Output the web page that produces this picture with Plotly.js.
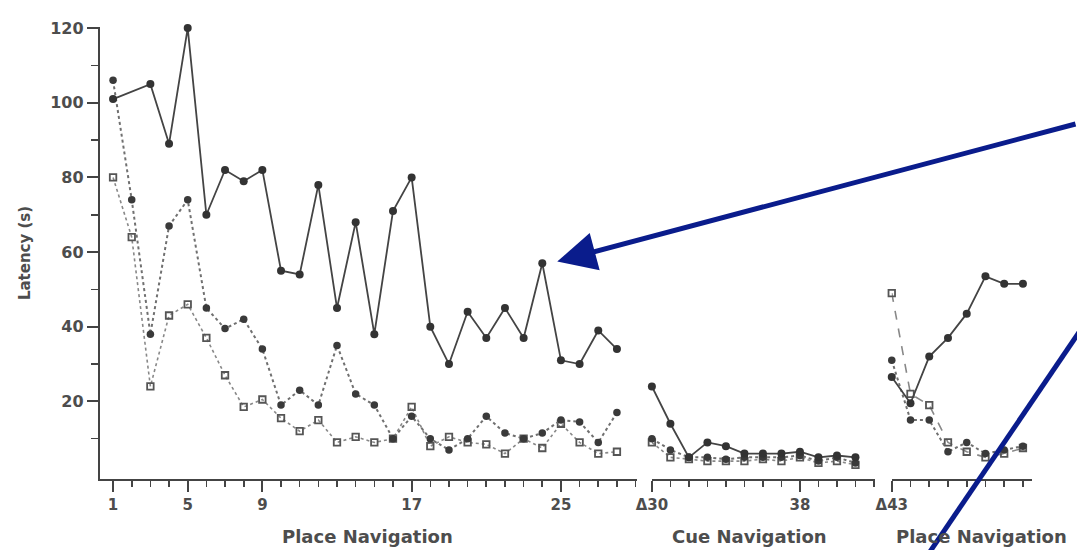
<!DOCTYPE html>
<html>
<head>
<meta charset="utf-8">
<script src="https://cdn.plot.ly/plotly-3.0.1.min.js"></script>
<style>
  html, body { margin: 0; padding: 0; background: #ffffff; }
  #chart { width: 1077px; height: 550px; }
</style>
</head>
<body>
<div id="chart"></div>
<script>
// ---- Data (latency in seconds) ----
// Place navigation, trials 1-28
const placeTrials1 = [1,2,3,4,5,6,7,8,9,10,11,12,13,14,15,16,17,18,19,20,21,22,23,24,25,26,27,28];
const solidPlace1  = [101,null,105,89,120,70,82,79,82,55,54,78,45,68,38,71,80,40,30,44,37,45,37,57,31,30,39,34];
const dottedPlace1 = [106,74,38,67,74,45,39.5,42,34,19,23,19,35,22,19,10,16,10,7,10,16,11.5,10,11.5,15,14.5,9,17];
const openPlace1   = [80,64,24,43,46,37,27,18.5,20.5,15.5,12,15,9,10.5,9,10,18.5,8,10.5,9,8.5,6,10,7.5,14,9,6,6.5];

// Cue navigation, trials 30-41
const cueTrials   = [30,31,32,33,34,35,36,37,38,39,40,41];
const solidCue    = [24,14,5,9,8,6,6,6,6.5,5,5.5,5];
const dottedCue   = [10,7,5,5,4.5,5,5,5,5.5,4,5,3.5];
const openCue     = [9,5,4.5,4,4,4,4.5,4,5,3.5,4,3];

// Place navigation (second), trials 43-50
const placeTrials2 = [43,44,45,46,47,48,49,50];
const solidPlace2  = [26.5,19.5,32,37,43.5,53.5,51.5,51.5];
const dottedPlace2 = [31,15,15,6.5,9,6,7,8];
const openPlace2   = [49,22,19,9,6.5,5,6,7.5];

// Tick labels
const place1TickVals = [1,5,9,17,25];
const place1TickText = ['1','5','9','17','25'];
const cueTickVals = [30,38];
const cueTickText = ['\u039430','38'];
const place2TickVals = [43];
const place2TickText = ['\u039443'];
const yTickVals = [20,40,60,80,100,120];
const yTickText = ['20','40','60','80','100','120'];
const yMinorVals = [10,30,50,70,90,110];

// ---- Styles ----
const FONT = 'DejaVu Sans, Liberation Sans, Arial, sans-serif';
const INK = '#444';
const TXT = '#4d4d4d';

function solid(x, y, xa) {
  return {x, y, xaxis: xa, yaxis: 'y', type: 'scatter', mode: 'lines+markers',
    connectgaps: true, cliponaxis: false, showlegend: false,
    line: {color: '#444', width: 1.8},
    marker: {symbol: 'circle', size: 8, color: '#333'}};
}
function dotted(x, y, xa) {
  return {x, y, xaxis: xa, yaxis: 'y', type: 'scatter', mode: 'lines+markers',
    connectgaps: true, cliponaxis: false, showlegend: false,
    line: {color: '#707070', width: 2, dash: 'dot'},
    marker: {symbol: 'circle', size: 7.5, color: '#3a3a3a'}};
}
function open(x, y, xa, dash) {
  return {x, y, xaxis: xa, yaxis: 'y', type: 'scatter', mode: 'lines+markers',
    connectgaps: true, cliponaxis: false, showlegend: false,
    line: {color: '#888', width: 1.6, dash: dash},
    marker: {symbol: 'square-open', size: 6.5, color: '#555', line: {width: 1.8, color: '#555'}}};
}

const data = [
  open(placeTrials1, openPlace1, 'x', 'dot'),
  dotted(placeTrials1, dottedPlace1, 'x'),
  solid(placeTrials1, solidPlace1, 'x'),
  open(cueTrials, openCue, 'x2', 'dot'),
  dotted(cueTrials, dottedCue, 'x2'),
  solid(cueTrials, solidCue, 'x2'),
  open(placeTrials2, openPlace2, 'x3', 'dash'),
  dotted(placeTrials2, dottedPlace2, 'x3'),
  solid(placeTrials2, solidPlace2, 'x3')
];

function xAxis(domain, range, tickvals, ticktext, tick0) {
  return {
    domain, range, anchor: 'y', showline: true, linewidth: 2.2, linecolor: INK,
    showgrid: false, zeroline: false, fixedrange: true,
    tickmode: 'array', tickvals, ticktext,
    ticks: 'outside', ticklen: 11, tickwidth: 2, tickcolor: INK,
    tickfont: {family: FONT, size: 15, color: TXT, weight: 'bold'},
    minor: {tickmode: 'linear', tick0, dtick: 1, ticks: 'outside', ticklen: 6, tickwidth: 1.6, tickcolor: INK, showgrid: false}
  };
}

const titleFont = {family: FONT, size: 18, color: TXT, weight: 'bold'};

const layout = {
  width: 1077, height: 550,
  margin: {l: 100, r: 40, t: 27, b: 71},
  paper_bgcolor: '#ffffff', plot_bgcolor: '#ffffff',
  showlegend: false,
  xaxis: xAxis([0, 0.573], [0.3, 29.07], place1TickVals, place1TickText, 1),
  xaxis2: xAxis([0.589, 0.827], [30, 42.05], cueTickVals, cueTickText, 30),
  xaxis3: xAxis([0.845, 0.995], [43, 50.5], place2TickVals, place2TickText, 43),
  yaxis: {
    domain: [0, 1], range: [-0.8, 120.3], anchor: 'x',
    showline: true, linewidth: 2.2, linecolor: INK, showgrid: false, zeroline: false, fixedrange: true,
    tickmode: 'array', tickvals: yTickVals, ticktext: yTickText,
    ticks: 'outside', ticklen: 11, tickwidth: 2, tickcolor: INK,
    tickfont: {family: FONT, size: 16, color: TXT, weight: 'bold'},
    minor: {tickmode: 'array', tickvals: yMinorVals, ticks: 'outside', ticklen: 7, tickwidth: 1.6, tickcolor: INK, showgrid: false},
    title: {text: 'Latency (s)', font: {family: FONT, size: 15, color: TXT, weight: 'bold'}, standoff: 16}
  },
  annotations: [
    {text: 'Place Navigation', xref: 'paper', yref: 'paper', x: 0.286, y: -0.127, showarrow: false, font: titleFont, xanchor: 'center', yanchor: 'middle'},
    {text: 'Cue Navigation', xref: 'paper', yref: 'paper', x: 0.693, y: -0.127, showarrow: false, font: titleFont, xanchor: 'center', yanchor: 'middle'},
    {text: 'Place Navigation', xref: 'paper', yref: 'paper', x: 0.941, y: -0.127, showarrow: false, font: titleFont, xanchor: 'center', yanchor: 'middle'},
    {text: '', xref: 'paper', yref: 'paper', x: 0.488, y: 0.481,
     showarrow: true, axref: 'pixel', ayref: 'pixel', ax: 540, ay: -138,
     arrowhead: 2, arrowsize: 1.55, arrowwidth: 5, arrowcolor: '#0a1c8c', standoff: 0}
  ],
  shapes: [
    {type: 'line', xref: 'paper', yref: 'paper', x0: 1.045, y0: 0.325, x1: 0.886, y1: -0.16,
     line: {color: '#0a1c8c', width: 5}}
  ]
};

Plotly.newPlot('chart', data, layout, {displayModeBar: false, staticPlot: true});
</script>
</body>
</html>
